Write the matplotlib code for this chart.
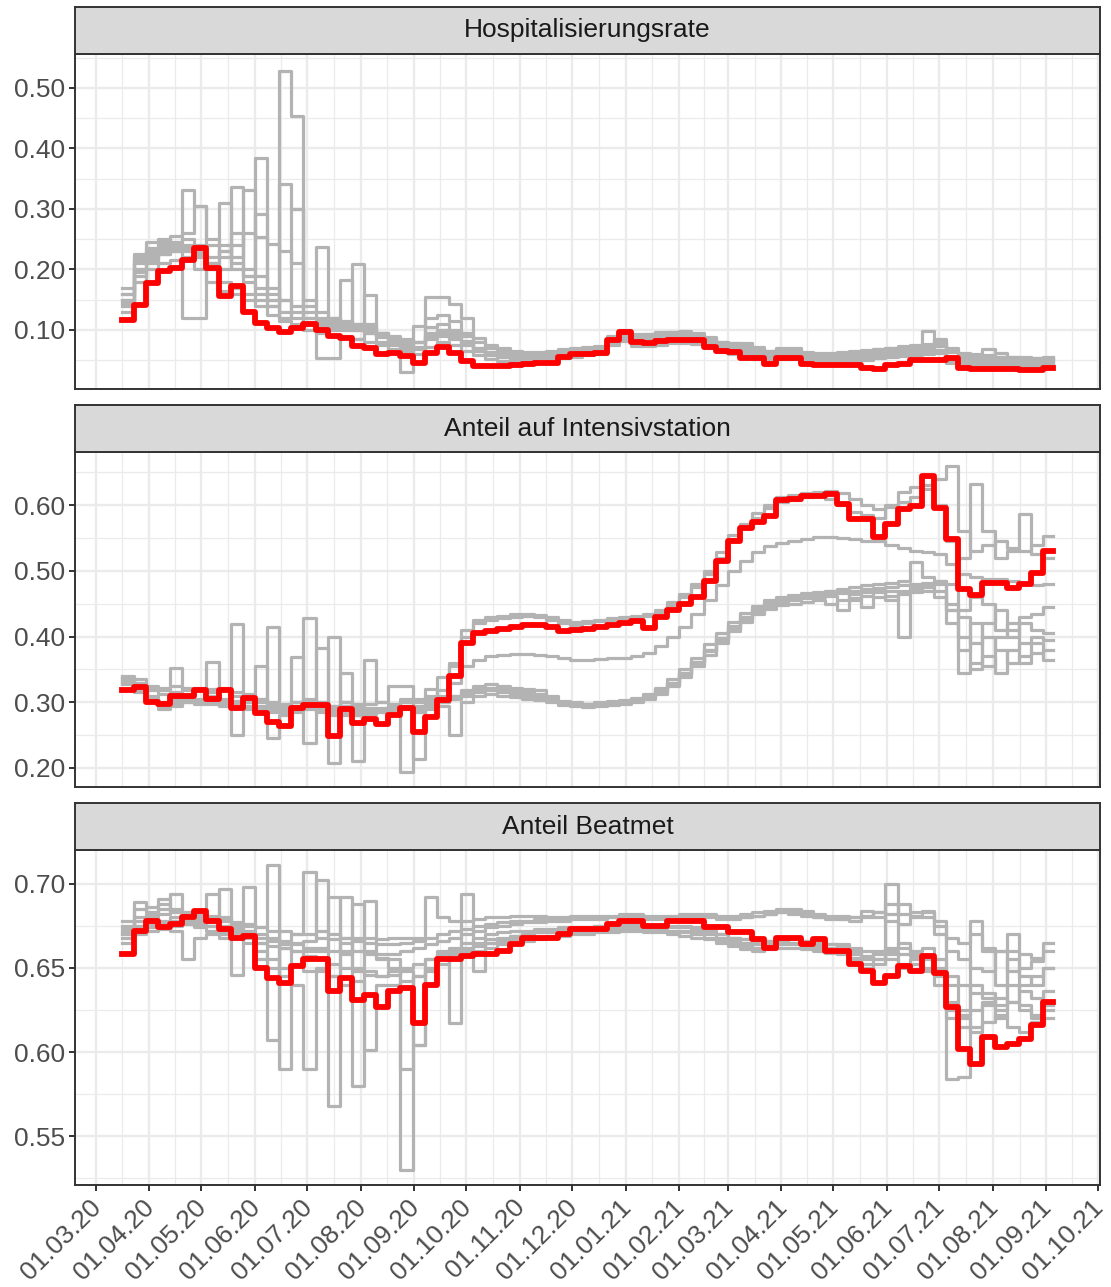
import numpy as np
import pandas as pd
import matplotlib
matplotlib.use("Agg")
import matplotlib.pyplot as plt
import matplotlib.dates as mdates
import matplotlib.transforms as mtransforms
from matplotlib.ticker import MultipleLocator, FixedLocator, FormatStrFormatter

plt.rcParams['font.family'] = ['Liberation Sans', 'DejaVu Sans']

# weekly values, first week starts 16.03.2020 (77 weeks)
start_date = "2020-03-16"
n_weeks = 77

titles = ["Hospitalisierungsrate", "Anteil auf Intensivstation", "Anteil Beatmet"]

# --- Hospitalisierungsrate ---
hosp_red = [0.117, 0.141, 0.178, 0.197, 0.203, 0.216, 0.235, 0.202, 0.156, 0.173, 0.129,
            0.112, 0.103, 0.097, 0.104, 0.110, 0.100, 0.090, 0.087, 0.074, 0.070, 0.060,
            0.062, 0.057, 0.046, 0.062, 0.072, 0.062, 0.049, 0.041, 0.040, 0.041, 0.042,
            0.044, 0.046, 0.046, 0.055, 0.061, 0.061, 0.062, 0.083, 0.097, 0.080, 0.079,
            0.082, 0.083, 0.084, 0.084, 0.072, 0.066, 0.064, 0.053, 0.053, 0.044, 0.054,
            0.054, 0.043, 0.042, 0.042, 0.042, 0.042, 0.037, 0.036, 0.042, 0.043, 0.050,
            0.050, 0.051, 0.054, 0.037, 0.036, 0.036, 0.035, 0.035, 0.034, 0.034, 0.037]

hosp_gray = [
    [0.150, 0.215, 0.230, 0.240, 0.245, 0.331, 0.305, 0.250, 0.240, 0.210, 0.180,
     0.160, 0.150, 0.341, 0.300, 0.140, 0.237, 0.120, 0.110, 0.100, 0.095, 0.090,
     0.085, 0.075, 0.070, 0.090, 0.100, 0.095, 0.080, 0.065, 0.060, 0.058, 0.057,
     0.056, 0.057, 0.058, 0.060, 0.065, 0.068, 0.070, 0.085, 0.100, 0.092, 0.090,
     0.091, 0.093, 0.095, 0.090, 0.080, 0.075, 0.073, 0.070, 0.065, 0.060, 0.062,
     0.063, 0.060, 0.058, 0.058, 0.060, 0.062, 0.064, 0.066, 0.068, 0.070, 0.072,
     0.098, 0.075, 0.065, 0.060, 0.058, 0.055, 0.055, 0.054, 0.052, 0.050, 0.052],
    [0.170, 0.225, 0.245, 0.250, 0.240, 0.230, 0.225, 0.200, 0.180, 0.170, 0.160,
     0.150, 0.140, 0.528, 0.454, 0.130, 0.120, 0.115, 0.110, 0.105, 0.100, 0.095,
     0.080, 0.072, 0.080, 0.105, 0.110, 0.100, 0.090, 0.080, 0.070, 0.065, 0.062,
     0.060, 0.060, 0.062, 0.064, 0.066, 0.068, 0.070, 0.088, 0.095, 0.093, 0.094,
     0.096, 0.097, 0.098, 0.095, 0.088, 0.080, 0.078, 0.075, 0.070, 0.066, 0.068,
     0.068, 0.062, 0.060, 0.060, 0.062, 0.064, 0.066, 0.068, 0.070, 0.072, 0.074,
     0.076, 0.078, 0.070, 0.062, 0.060, 0.058, 0.056, 0.055, 0.054, 0.053, 0.054],
    [0.160, 0.200, 0.220, 0.230, 0.235, 0.240, 0.230, 0.210, 0.200, 0.336, 0.190,
     0.384, 0.160, 0.150, 0.140, 0.120, 0.110, 0.105, 0.183, 0.110, 0.100, 0.090,
     0.085, 0.080, 0.107, 0.154, 0.155, 0.143, 0.120, 0.087, 0.076, 0.070, 0.066,
     0.064, 0.064, 0.066, 0.068, 0.070, 0.072, 0.074, 0.090, 0.094, 0.092, 0.093,
     0.095, 0.096, 0.096, 0.093, 0.085, 0.080, 0.078, 0.078, 0.072, 0.065, 0.070,
     0.070, 0.064, 0.062, 0.062, 0.063, 0.065, 0.067, 0.069, 0.071, 0.073, 0.075,
     0.077, 0.085, 0.066, 0.058, 0.056, 0.068, 0.062, 0.056, 0.055, 0.054, 0.056],
    [0.140, 0.190, 0.215, 0.225, 0.230, 0.120, 0.120, 0.200, 0.230, 0.220, 0.331,
     0.190, 0.150, 0.130, 0.120, 0.110, 0.105, 0.100, 0.100, 0.209, 0.110, 0.095,
     0.085, 0.075, 0.072, 0.090, 0.095, 0.088, 0.078, 0.068, 0.062, 0.058, 0.055,
     0.054, 0.055, 0.056, 0.058, 0.060, 0.062, 0.064, 0.082, 0.090, 0.082, 0.080,
     0.083, 0.085, 0.086, 0.084, 0.076, 0.070, 0.067, 0.063, 0.058, 0.052, 0.058,
     0.058, 0.052, 0.050, 0.050, 0.052, 0.055, 0.058, 0.060, 0.062, 0.063, 0.064,
     0.065, 0.067, 0.050, 0.046, 0.045, 0.048, 0.046, 0.045, 0.044, 0.043, 0.046],
    [0.130, 0.210, 0.225, 0.235, 0.240, 0.250, 0.220, 0.210, 0.310, 0.200, 0.190,
     0.170, 0.140, 0.120, 0.300, 0.110, 0.054, 0.054, 0.090, 0.085, 0.157, 0.080,
     0.075, 0.030, 0.080, 0.120, 0.125, 0.115, 0.095, 0.070, 0.062, 0.058, 0.055,
     0.053, 0.054, 0.055, 0.057, 0.059, 0.061, 0.063, 0.078, 0.085, 0.078, 0.078,
     0.080, 0.082, 0.083, 0.081, 0.074, 0.068, 0.066, 0.060, 0.056, 0.050, 0.056,
     0.056, 0.049, 0.047, 0.047, 0.049, 0.052, 0.054, 0.056, 0.058, 0.060, 0.062,
     0.064, 0.064, 0.048, 0.044, 0.044, 0.046, 0.044, 0.043, 0.042, 0.041, 0.044],
    [0.160, 0.220, 0.235, 0.245, 0.255, 0.260, 0.305, 0.240, 0.220, 0.260, 0.200,
     0.291, 0.170, 0.150, 0.130, 0.120, 0.115, 0.110, 0.105, 0.100, 0.095, 0.088,
     0.080, 0.070, 0.068, 0.085, 0.090, 0.085, 0.075, 0.065, 0.058, 0.055, 0.052,
     0.050, 0.051, 0.052, 0.055, 0.058, 0.060, 0.062, 0.080, 0.088, 0.080, 0.079,
     0.081, 0.083, 0.085, 0.082, 0.075, 0.069, 0.066, 0.061, 0.057, 0.051, 0.057,
     0.057, 0.051, 0.048, 0.048, 0.050, 0.052, 0.054, 0.056, 0.058, 0.060, 0.062,
     0.064, 0.080, 0.055, 0.050, 0.048, 0.050, 0.048, 0.047, 0.046, 0.045, 0.048],
    [0.145, 0.195, 0.210, 0.225, 0.230, 0.235, 0.240, 0.220, 0.230, 0.240, 0.261,
     0.253, 0.242, 0.230, 0.210, 0.150, 0.130, 0.120, 0.115, 0.110, 0.105, 0.095,
     0.090, 0.085, 0.080, 0.095, 0.100, 0.092, 0.082, 0.070, 0.064, 0.060, 0.058,
     0.057, 0.058, 0.059, 0.061, 0.063, 0.065, 0.067, 0.085, 0.092, 0.087, 0.086,
     0.088, 0.090, 0.091, 0.088, 0.080, 0.074, 0.071, 0.067, 0.062, 0.057, 0.063,
     0.063, 0.057, 0.055, 0.055, 0.057, 0.059, 0.061, 0.063, 0.065, 0.067, 0.069,
     0.071, 0.073, 0.063, 0.055, 0.053, 0.052, 0.051, 0.050, 0.049, 0.048, 0.050],
    [0.150, 0.180, 0.200, 0.210, 0.215, 0.220, 0.200, 0.180, 0.165, 0.160, 0.150,
     0.140, 0.125, 0.115, 0.110, 0.100, 0.095, 0.090, 0.088, 0.085, 0.080, 0.075,
     0.068, 0.065, 0.060, 0.072, 0.080, 0.075, 0.065, 0.058, 0.052, 0.049, 0.047,
     0.046, 0.048, 0.050, 0.053, 0.056, 0.058, 0.060, 0.075, 0.082, 0.074, 0.073,
     0.076, 0.078, 0.079, 0.077, 0.070, 0.064, 0.061, 0.056, 0.052, 0.047, 0.052,
     0.052, 0.047, 0.045, 0.045, 0.047, 0.049, 0.051, 0.053, 0.055, 0.057, 0.059,
     0.061, 0.062, 0.045, 0.042, 0.041, 0.040, 0.040, 0.039, 0.038, 0.037, 0.040],
]

# --- Anteil auf Intensivstation ---
icu_red = [0.319, 0.323, 0.300, 0.297, 0.310, 0.310, 0.319, 0.305, 0.319, 0.291, 0.307,
           0.283, 0.270, 0.264, 0.292, 0.296, 0.296, 0.249, 0.289, 0.269, 0.274, 0.267,
           0.281, 0.291, 0.254, 0.278, 0.303, 0.340, 0.390, 0.405, 0.408, 0.412, 0.415,
           0.417, 0.417, 0.415, 0.409, 0.410, 0.412, 0.415, 0.418, 0.420, 0.424, 0.413,
           0.430, 0.441, 0.450, 0.460, 0.485, 0.515, 0.545, 0.565, 0.575, 0.584, 0.608,
           0.610, 0.614, 0.614, 0.617, 0.602, 0.579, 0.579, 0.551, 0.571, 0.594, 0.599,
           0.644, 0.595, 0.548, 0.472, 0.463, 0.481, 0.481, 0.474, 0.480, 0.497, 0.530]

icu_gray = [
    [0.335, 0.330, 0.320, 0.318, 0.352, 0.322, 0.318, 0.315, 0.320, 0.419, 0.312,
     0.305, 0.298, 0.295, 0.300, 0.305, 0.300, 0.295, 0.300, 0.298, 0.365, 0.300,
     0.298, 0.300, 0.302, 0.310, 0.318, 0.360, 0.410, 0.425, 0.430, 0.432, 0.434,
     0.435, 0.433, 0.430, 0.425, 0.422, 0.424, 0.426, 0.428, 0.430, 0.432, 0.434,
     0.440, 0.452, 0.465, 0.480, 0.500, 0.528, 0.555, 0.572, 0.588, 0.600, 0.612,
     0.615, 0.618, 0.620, 0.621, 0.618, 0.610, 0.600, 0.594, 0.598, 0.605, 0.612,
     0.625, 0.640, 0.659, 0.560, 0.530, 0.540, 0.545, 0.535, 0.530, 0.540, 0.553],
    [0.330, 0.328, 0.318, 0.312, 0.315, 0.318, 0.320, 0.318, 0.322, 0.310, 0.305,
     0.300, 0.414, 0.290, 0.292, 0.300, 0.382, 0.295, 0.300, 0.290, 0.292, 0.288,
     0.295, 0.305, 0.300, 0.305, 0.338, 0.355, 0.400, 0.420, 0.425, 0.428, 0.430,
     0.432, 0.430, 0.425, 0.420, 0.418, 0.420, 0.424, 0.426, 0.428, 0.430, 0.432,
     0.438, 0.448, 0.460, 0.475, 0.495, 0.520, 0.548, 0.565, 0.580, 0.595, 0.605,
     0.608, 0.612, 0.615, 0.610, 0.600, 0.590, 0.585, 0.580, 0.600, 0.620, 0.628,
     0.630, 0.600, 0.545, 0.520, 0.632, 0.560, 0.520, 0.530, 0.586, 0.525, 0.520],
    [0.340, 0.335, 0.325, 0.322, 0.325, 0.320, 0.322, 0.320, 0.318, 0.315, 0.310,
     0.305, 0.300, 0.298, 0.300, 0.302, 0.300, 0.400, 0.300, 0.295, 0.298, 0.300,
     0.324, 0.324, 0.305, 0.300, 0.310, 0.330, 0.355, 0.365, 0.370, 0.372, 0.374,
     0.374, 0.372, 0.370, 0.367, 0.365, 0.365, 0.366, 0.367, 0.368, 0.370, 0.375,
     0.386, 0.400, 0.415, 0.435, 0.455, 0.478, 0.500, 0.515, 0.528, 0.538, 0.543,
     0.546, 0.549, 0.551, 0.551, 0.550, 0.548, 0.546, 0.545, 0.540, 0.535, 0.530,
     0.528, 0.525, 0.510, 0.495, 0.490, 0.488, 0.487, 0.485, 0.480, 0.478, 0.480],
    [0.335, 0.325, 0.305, 0.300, 0.305, 0.300, 0.305, 0.362, 0.300, 0.298, 0.295,
     0.290, 0.295, 0.292, 0.300, 0.429, 0.295, 0.290, 0.285, 0.280, 0.285, 0.290,
     0.288, 0.194, 0.285, 0.295, 0.300, 0.310, 0.315, 0.320, 0.322, 0.320, 0.318,
     0.315, 0.312, 0.305, 0.300, 0.298, 0.297, 0.298, 0.300, 0.302, 0.305, 0.310,
     0.319, 0.330, 0.345, 0.362, 0.380, 0.398, 0.415, 0.430, 0.442, 0.452, 0.458,
     0.462, 0.465, 0.467, 0.470, 0.472, 0.475, 0.478, 0.480, 0.482, 0.485, 0.513,
     0.490, 0.485, 0.480, 0.430, 0.390, 0.420, 0.440, 0.410, 0.430, 0.435, 0.445],
    [0.330, 0.320, 0.310, 0.295, 0.300, 0.305, 0.300, 0.310, 0.305, 0.250, 0.300,
     0.290, 0.285, 0.288, 0.295, 0.238, 0.290, 0.285, 0.290, 0.285, 0.290, 0.285,
     0.290, 0.295, 0.290, 0.320, 0.305, 0.310, 0.318, 0.325, 0.328, 0.325, 0.322,
     0.320, 0.318, 0.310, 0.302, 0.300, 0.298, 0.300, 0.302, 0.304, 0.306, 0.312,
     0.322, 0.335, 0.350, 0.368, 0.388, 0.405, 0.422, 0.436, 0.446, 0.455, 0.460,
     0.463, 0.466, 0.468, 0.470, 0.466, 0.455, 0.462, 0.468, 0.470, 0.400, 0.472,
     0.475, 0.480, 0.450, 0.345, 0.360, 0.400, 0.380, 0.360, 0.370, 0.375, 0.380],
    [0.332, 0.318, 0.300, 0.290, 0.295, 0.300, 0.298, 0.300, 0.295, 0.300, 0.305,
     0.355, 0.290, 0.285, 0.290, 0.295, 0.290, 0.208, 0.295, 0.290, 0.288, 0.292,
     0.295, 0.300, 0.213, 0.300, 0.305, 0.305, 0.310, 0.315, 0.318, 0.316, 0.313,
     0.310, 0.308, 0.302, 0.298, 0.296, 0.295, 0.296, 0.298, 0.300, 0.302, 0.308,
     0.316, 0.328, 0.342, 0.360, 0.378, 0.395, 0.412, 0.426, 0.438, 0.446, 0.452,
     0.455, 0.458, 0.460, 0.462, 0.440, 0.465, 0.468, 0.470, 0.455, 0.470, 0.475,
     0.478, 0.470, 0.420, 0.400, 0.350, 0.370, 0.345, 0.380, 0.390, 0.400, 0.395],
    [0.328, 0.315, 0.300, 0.295, 0.298, 0.302, 0.300, 0.298, 0.300, 0.295, 0.290,
     0.285, 0.245, 0.280, 0.285, 0.290, 0.285, 0.280, 0.345, 0.280, 0.285, 0.288,
     0.285, 0.290, 0.285, 0.290, 0.295, 0.250, 0.300, 0.310, 0.312, 0.310, 0.308,
     0.305, 0.303, 0.300, 0.296, 0.294, 0.293, 0.294, 0.296, 0.298, 0.300, 0.305,
     0.312, 0.324, 0.338, 0.355, 0.372, 0.390, 0.408, 0.422, 0.434, 0.442, 0.448,
     0.450, 0.452, 0.455, 0.450, 0.455, 0.458, 0.445, 0.460, 0.462, 0.465, 0.468,
     0.470, 0.460, 0.440, 0.380, 0.420, 0.355, 0.400, 0.420, 0.360, 0.390, 0.365],
    [0.338, 0.322, 0.305, 0.298, 0.300, 0.305, 0.302, 0.305, 0.298, 0.302, 0.300,
     0.295, 0.290, 0.292, 0.369, 0.292, 0.288, 0.285, 0.280, 0.211, 0.282, 0.285,
     0.290, 0.292, 0.295, 0.298, 0.300, 0.308, 0.312, 0.318, 0.320, 0.318, 0.315,
     0.312, 0.310, 0.304, 0.300, 0.297, 0.296, 0.297, 0.299, 0.301, 0.303, 0.308,
     0.318, 0.330, 0.345, 0.362, 0.380, 0.398, 0.416, 0.430, 0.441, 0.450, 0.456,
     0.459, 0.462, 0.464, 0.466, 0.468, 0.470, 0.472, 0.474, 0.476, 0.478, 0.480,
     0.482, 0.484, 0.440, 0.440, 0.460, 0.450, 0.410, 0.400, 0.420, 0.410, 0.405],
]

# --- Anteil Beatmet ---
vent_red = [0.658, 0.672, 0.678, 0.674, 0.676, 0.680, 0.684, 0.678, 0.673, 0.668, 0.669,
            0.650, 0.644, 0.641, 0.651, 0.655, 0.655, 0.636, 0.644, 0.631, 0.634, 0.627,
            0.636, 0.638, 0.617, 0.640, 0.655, 0.655, 0.657, 0.658, 0.658, 0.660, 0.664,
            0.668, 0.668, 0.668, 0.670, 0.673, 0.673, 0.673, 0.676, 0.678, 0.678, 0.675,
            0.675, 0.678, 0.678, 0.678, 0.674, 0.674, 0.671, 0.671, 0.667, 0.662, 0.668,
            0.668, 0.664, 0.667, 0.660, 0.660, 0.652, 0.648, 0.641, 0.645, 0.651, 0.648,
            0.657, 0.647, 0.627, 0.602, 0.593, 0.609, 0.603, 0.605, 0.608, 0.616, 0.630]

vent_gray = [
    [0.670, 0.685, 0.683, 0.685, 0.684, 0.682, 0.680, 0.681, 0.678, 0.676, 0.675,
     0.674, 0.711, 0.672, 0.670, 0.670, 0.668, 0.667, 0.668, 0.668, 0.668, 0.667,
     0.668, 0.668, 0.668, 0.692, 0.680, 0.678, 0.678, 0.679, 0.680, 0.680, 0.681,
     0.681, 0.681, 0.680, 0.680, 0.681, 0.681, 0.681, 0.681, 0.682, 0.682, 0.681,
     0.681, 0.681, 0.682, 0.682, 0.682, 0.681, 0.681, 0.682, 0.683, 0.684, 0.685,
     0.685, 0.684, 0.682, 0.681, 0.681, 0.680, 0.681, 0.683, 0.682, 0.688, 0.683,
     0.684, 0.678, 0.668, 0.665, 0.670, 0.662, 0.660, 0.660, 0.658, 0.656, 0.665],
    [0.675, 0.680, 0.682, 0.691, 0.685, 0.683, 0.682, 0.680, 0.679, 0.677, 0.676,
     0.674, 0.672, 0.590, 0.670, 0.707, 0.672, 0.670, 0.668, 0.666, 0.665, 0.664,
     0.664, 0.665, 0.666, 0.668, 0.670, 0.672, 0.673, 0.675, 0.676, 0.677, 0.678,
     0.678, 0.679, 0.679, 0.679, 0.680, 0.680, 0.680, 0.680, 0.681, 0.681, 0.680,
     0.680, 0.680, 0.681, 0.681, 0.681, 0.680, 0.680, 0.680, 0.681, 0.682, 0.683,
     0.683, 0.682, 0.680, 0.679, 0.679, 0.678, 0.680, 0.683, 0.688, 0.682, 0.681,
     0.680, 0.675, 0.640, 0.625, 0.678, 0.660, 0.640, 0.655, 0.645, 0.640, 0.650],
    [0.672, 0.678, 0.680, 0.682, 0.694, 0.678, 0.676, 0.675, 0.697, 0.672, 0.670,
     0.668, 0.666, 0.664, 0.665, 0.666, 0.702, 0.568, 0.665, 0.660, 0.658, 0.656,
     0.655, 0.530, 0.604, 0.655, 0.660, 0.662, 0.665, 0.668, 0.670, 0.671, 0.672,
     0.672, 0.673, 0.673, 0.674, 0.674, 0.674, 0.675, 0.675, 0.676, 0.676, 0.675,
     0.674, 0.674, 0.674, 0.673, 0.672, 0.670, 0.668, 0.667, 0.666, 0.666, 0.667,
     0.667, 0.666, 0.665, 0.664, 0.664, 0.662, 0.660, 0.658, 0.662, 0.665, 0.660,
     0.662, 0.655, 0.584, 0.585, 0.640, 0.635, 0.625, 0.630, 0.628, 0.622, 0.625],
    [0.678, 0.675, 0.676, 0.678, 0.680, 0.676, 0.674, 0.672, 0.670, 0.668, 0.698,
     0.665, 0.663, 0.662, 0.660, 0.660, 0.662, 0.692, 0.660, 0.580, 0.690, 0.655,
     0.650, 0.590, 0.645, 0.650, 0.655, 0.660, 0.662, 0.665, 0.667, 0.668, 0.669,
     0.670, 0.671, 0.671, 0.672, 0.672, 0.672, 0.673, 0.673, 0.674, 0.674, 0.673,
     0.673, 0.672, 0.672, 0.671, 0.670, 0.668, 0.666, 0.665, 0.664, 0.665, 0.666,
     0.665, 0.664, 0.663, 0.662, 0.660, 0.658, 0.655, 0.660, 0.700, 0.662, 0.658,
     0.656, 0.650, 0.625, 0.620, 0.615, 0.630, 0.620, 0.670, 0.625, 0.620, 0.628],
    [0.665, 0.672, 0.674, 0.675, 0.672, 0.655, 0.668, 0.670, 0.668, 0.646, 0.668,
     0.660, 0.655, 0.650, 0.652, 0.648, 0.650, 0.645, 0.692, 0.650, 0.648, 0.645,
     0.648, 0.650, 0.652, 0.655, 0.658, 0.617, 0.660, 0.663, 0.665, 0.666, 0.667,
     0.668, 0.668, 0.669, 0.670, 0.671, 0.671, 0.672, 0.672, 0.673, 0.673, 0.672,
     0.672, 0.671, 0.671, 0.670, 0.668, 0.666, 0.664, 0.663, 0.662, 0.663, 0.664,
     0.664, 0.663, 0.662, 0.661, 0.660, 0.656, 0.652, 0.655, 0.658, 0.652, 0.655,
     0.650, 0.640, 0.620, 0.615, 0.612, 0.618, 0.622, 0.615, 0.612, 0.618, 0.620],
    [0.670, 0.674, 0.676, 0.677, 0.678, 0.680, 0.678, 0.675, 0.672, 0.670, 0.665,
     0.655, 0.650, 0.645, 0.640, 0.590, 0.648, 0.645, 0.640, 0.642, 0.601, 0.640,
     0.640, 0.642, 0.645, 0.648, 0.652, 0.655, 0.694, 0.660, 0.662, 0.664, 0.665,
     0.666, 0.667, 0.668, 0.669, 0.670, 0.670, 0.671, 0.671, 0.672, 0.672, 0.671,
     0.671, 0.670, 0.669, 0.668, 0.667, 0.665, 0.663, 0.661, 0.660, 0.661, 0.662,
     0.662, 0.661, 0.660, 0.659, 0.658, 0.654, 0.650, 0.652, 0.655, 0.650, 0.652,
     0.648, 0.645, 0.630, 0.622, 0.625, 0.628, 0.632, 0.630, 0.640, 0.645, 0.650],
    [0.668, 0.670, 0.672, 0.673, 0.675, 0.677, 0.675, 0.694, 0.675, 0.673, 0.670,
     0.665, 0.607, 0.662, 0.660, 0.657, 0.655, 0.652, 0.650, 0.648, 0.646, 0.645,
     0.646, 0.648, 0.604, 0.650, 0.655, 0.658, 0.660, 0.648, 0.665, 0.667, 0.669,
     0.670, 0.671, 0.672, 0.673, 0.674, 0.674, 0.675, 0.675, 0.676, 0.676, 0.675,
     0.675, 0.675, 0.675, 0.674, 0.672, 0.670, 0.668, 0.667, 0.666, 0.666, 0.667,
     0.667, 0.666, 0.665, 0.664, 0.663, 0.660, 0.657, 0.655, 0.660, 0.658, 0.657,
     0.655, 0.648, 0.645, 0.640, 0.635, 0.632, 0.628, 0.640, 0.636, 0.632, 0.636],
    [0.673, 0.689, 0.686, 0.688, 0.683, 0.681, 0.679, 0.677, 0.680, 0.674, 0.672,
     0.670, 0.668, 0.666, 0.664, 0.662, 0.660, 0.660, 0.658, 0.688, 0.660, 0.658,
     0.658, 0.660, 0.662, 0.664, 0.666, 0.668, 0.670, 0.672, 0.674, 0.675, 0.676,
     0.677, 0.677, 0.678, 0.678, 0.679, 0.679, 0.679, 0.680, 0.680, 0.680, 0.679,
     0.679, 0.679, 0.680, 0.680, 0.680, 0.679, 0.679, 0.680, 0.681, 0.682, 0.683,
     0.682, 0.681, 0.680, 0.680, 0.679, 0.680, 0.684, 0.680, 0.678, 0.676, 0.680,
     0.683, 0.670, 0.660, 0.655, 0.650, 0.648, 0.660, 0.648, 0.650, 0.654, 0.660],
]

panels = [
    (hosp_gray, hosp_red, (0.0025, 0.556), 0.10, 0.05),
    (icu_gray, icu_red, (0.171, 0.681), 0.10, 0.05),
    (vent_gray, vent_red, (0.521, 0.720), 0.05, 0.025),
]

weeks = pd.date_range(start_date, periods=n_weeks, freq="7D")
edges = weeks.append(pd.DatetimeIndex([weeks[-1] + pd.Timedelta(days=6)]))

# x range with ggplot-like 5% expansion
span = edges[-1] - edges[0]
xlim = (edges[0] - 0.05 * span, edges[-1] + 0.05 * span)

months = pd.date_range("2020-02-01", "2021-11-01", freq="MS")
month_nums = mdates.date2num(months)
mid_months = (month_nums[:-1] + month_nums[1:]) / 2


def step(ax, vals, **kw):
    vals = list(vals)
    ax.plot(edges[:len(vals) + 1], vals + [vals[-1]], drawstyle="steps-post", **kw)


W, H = 1111, 1287
fig = plt.figure(figsize=(W / 100, H / 100), dpi=100)

left = 75 / W
width = 1025 / W
plot_tops = [54, 452, 850]
plot_h = 335
strip_h = 47

border = "#333333"
for i, (gray, red, ylim, major, minor) in enumerate(panels):
    top = plot_tops[i]
    ax = fig.add_axes([left, 1 - (top + plot_h) / H, width, plot_h / H])
    sax = fig.add_axes([left, 1 - top / H, width, strip_h / H])

    for g in gray:
        step(ax, g, color="#B3B3B3", lw=2.3, zorder=2)
    step(ax, red, color="#FF0000", lw=4.2, zorder=3)

    ax.set_xlim(*xlim)
    ax.set_ylim(*ylim)
    ax.yaxis.set_major_locator(MultipleLocator(major))
    ax.yaxis.set_minor_locator(MultipleLocator(minor))
    ax.yaxis.set_major_formatter(FormatStrFormatter("%.2f"))
    ax.xaxis.set_major_locator(FixedLocator(month_nums))
    ax.xaxis.set_minor_locator(FixedLocator(mid_months))
    ax.xaxis.set_major_formatter(mdates.DateFormatter("%d.%m.%y"))

    ax.grid(True, which="major", color="#EBEBEB", lw=1.7)
    ax.grid(True, which="minor", color="#EBEBEB", lw=0.9)
    ax.set_axisbelow(True)
    for s in ax.spines.values():
        s.set_color(border)
        s.set_linewidth(1.4)

    ax.tick_params(axis="y", which="major", length=4, width=1.4, color=border,
                   labelsize=19, labelcolor="#4D4D4D", pad=3)
    ax.tick_params(which="minor", length=0)
    if i < 2:
        ax.tick_params(axis="x", which="major", length=0, labelbottom=False)
    else:
        ax.tick_params(axis="x", which="major", length=4, width=1.4, color=border,
                       labelsize=19, labelcolor="#4D4D4D", pad=3)
        shift = mtransforms.ScaledTranslation(-7 / 100, 0, fig.dpi_scale_trans)
        for lab in ax.get_xticklabels():
            lab.set_rotation(45)
            lab.set_ha("right")
            lab.set_va("top")
            lab.set_rotation_mode("anchor")
            lab.set_transform(lab.get_transform() + shift)

    sax.set_facecolor("#D9D9D9")
    sax.set_xticks([])
    sax.set_yticks([])
    for s in sax.spines.values():
        s.set_color(border)
        s.set_linewidth(1.4)
    sax.text(0.5, 0.5, titles[i], ha="center", va="center", fontsize=19,
             color="#1A1A1A", transform=sax.transAxes)

fig.savefig("out.png", dpi=100)
